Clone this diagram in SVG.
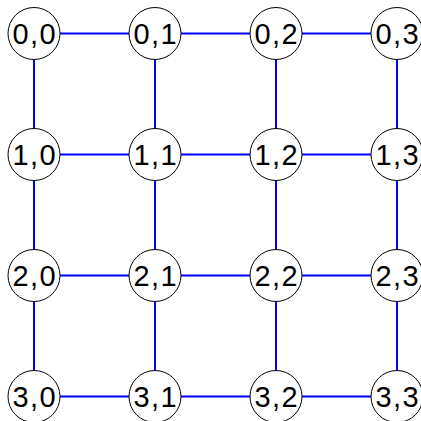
<svg xmlns="http://www.w3.org/2000/svg" width="421" height="421" viewBox="0 0 421 421">
<style>
.e{stroke:#0000ff;stroke-width:2;fill:none}
.n circle{fill:#fff;stroke:#000;stroke-width:1}
.n text{font-family:"Liberation Sans",Arial,sans-serif;font-size:29px;text-anchor:middle;letter-spacing:1.5px;fill:#000}
</style>
<rect width="421" height="421" fill="#fff"/>
<g id="edges">
<path class="e" d="M34 33.5H397M34 154.5H397M34 275.5H397M34 396.5H397M34 33.5V396.5M155 33.5V396.5M276 33.5V396.5M397 33.5V396.5"/>
</g>
<g id="n00" class="n"><circle cx="34" cy="33.5" r="26"/><text x="34.8" y="43.8">0,0</text></g>
<g id="n01" class="n"><circle cx="155" cy="33.5" r="26"/><text x="155.8" y="43.8">0,1</text></g>
<g id="n02" class="n"><circle cx="276" cy="33.5" r="26"/><text x="276.8" y="43.8">0,2</text></g>
<g id="n03" class="n"><circle cx="397" cy="33.5" r="26"/><text x="397.8" y="43.8">0,3</text></g>
<g id="n10" class="n"><circle cx="34" cy="154.5" r="26"/><text x="34.8" y="164.8">1,0</text></g>
<g id="n11" class="n"><circle cx="155" cy="154.5" r="26"/><text x="155.8" y="164.8">1,1</text></g>
<g id="n12" class="n"><circle cx="276" cy="154.5" r="26"/><text x="276.8" y="164.8">1,2</text></g>
<g id="n13" class="n"><circle cx="397" cy="154.5" r="26"/><text x="397.8" y="164.8">1,3</text></g>
<g id="n20" class="n"><circle cx="34" cy="275.5" r="26"/><text x="34.8" y="285.8">2,0</text></g>
<g id="n21" class="n"><circle cx="155" cy="275.5" r="26"/><text x="155.8" y="285.8">2,1</text></g>
<g id="n22" class="n"><circle cx="276" cy="275.5" r="26"/><text x="276.8" y="285.8">2,2</text></g>
<g id="n23" class="n"><circle cx="397" cy="275.5" r="26"/><text x="397.8" y="285.8">2,3</text></g>
<g id="n30" class="n"><circle cx="34" cy="396.5" r="26"/><text x="34.8" y="406.8">3,0</text></g>
<g id="n31" class="n"><circle cx="155" cy="396.5" r="26"/><text x="155.8" y="406.8">3,1</text></g>
<g id="n32" class="n"><circle cx="276" cy="396.5" r="26"/><text x="276.8" y="406.8">3,2</text></g>
<g id="n33" class="n"><circle cx="397" cy="396.5" r="26"/><text x="397.8" y="406.8">3,3</text></g>
</svg>
